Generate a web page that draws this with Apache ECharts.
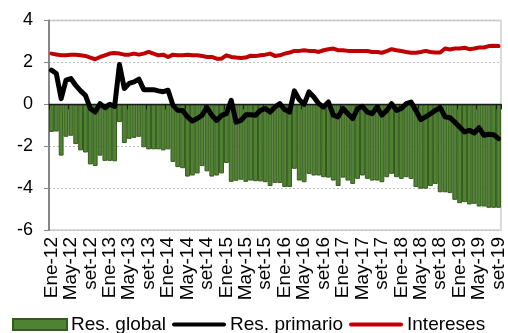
<!DOCTYPE html>
<html>
<head>
<meta charset="utf-8">
<style>
  html, body { margin: 0; padding: 0; background: #fff; }
  #chart { width: 508px; height: 333px; }
</style>
<script src="https://cdn.jsdelivr.net/npm/echarts@6/dist/echarts.min.js"></script>
</head>
<body>
<div id="chart"></div>
<script>
// Monthly series, Jan 2012 – Sep 2019 (% of GDP)
const months = [
  'Ene-12','Feb-12','Mar-12','Abr-12','May-12','Jun-12','Jul-12','Ago-12','set-12','Oct-12','Nov-12','Dic-12',
  'Ene-13','Feb-13','Mar-13','Abr-13','May-13','Jun-13','Jul-13','Ago-13','set-13','Oct-13','Nov-13','Dic-13',
  'Ene-14','Feb-14','Mar-14','Abr-14','May-14','Jun-14','Jul-14','Ago-14','set-14','Oct-14','Nov-14','Dic-14',
  'Ene-15','Feb-15','Mar-15','Abr-15','May-15','Jun-15','Jul-15','Ago-15','set-15','Oct-15','Nov-15','Dic-15',
  'Ene-16','Feb-16','Mar-16','Abr-16','May-16','Jun-16','Jul-16','Ago-16','set-16','Oct-16','Nov-16','Dic-16',
  'Ene-17','Feb-17','Mar-17','Abr-17','May-17','Jun-17','Jul-17','Ago-17','set-17','Oct-17','Nov-17','Dic-17',
  'Ene-18','Feb-18','Mar-18','Abr-18','May-18','Jun-18','Jul-18','Ago-18','set-18','Oct-18','Nov-18','Dic-18',
  'Ene-19','Feb-19','Mar-19','Abr-19','May-19','Jun-19','Jul-19','Ago-19','set-19'
];

const resGlobal = [
  -1.32, -1.30, -2.45, -1.55, -1.50, -1.90, -2.20, -2.30, -2.87, -2.95, -2.45, -2.70,
  -2.70, -2.72, -0.85, -1.85, -1.65, -1.60, -1.55, -2.05, -2.15, -2.15, -2.15, -2.20,
  -2.15, -2.75, -3.00, -3.05, -3.45, -3.40, -3.30, -2.95, -3.20, -3.45, -3.40, -3.30,
  -2.80, -3.70, -3.65, -3.60, -3.70, -3.64, -3.67, -3.68, -3.72, -3.90, -3.75, -3.76,
  -3.95, -3.95, -3.08, -3.64, -3.72, -3.32, -3.40, -3.40, -3.48, -3.50, -3.64, -3.90,
  -3.50, -3.64, -3.80, -3.56, -3.40, -3.56, -3.64, -3.64, -3.72, -3.48, -3.32, -3.48,
  -3.56, -3.48, -3.56, -3.95, -4.03, -4.03, -3.90, -3.80, -4.20, -4.20, -4.24, -4.56,
  -4.72, -4.67, -4.78, -4.75, -4.88, -4.88, -4.94, -4.94, -4.94
];

const resPrimario = [
  1.63, 1.47, 0.27, 1.15, 1.23, 0.90, 0.64, 0.43, -0.20, -0.37, 0.03, -0.16,
  0.00, -0.10, 1.90, 0.75, 1.00, 1.07, 1.20, 0.70, 0.70, 0.70, 0.64, 0.60,
  0.67, -0.05, -0.29, -0.30, -0.60, -0.80, -0.68, -0.52, -0.16, -0.52, -0.77, -0.53,
  -0.45, 0.19, -0.85, -0.77, -0.50, -0.50, -0.52, -0.29, -0.20, -0.37, -0.13, 0.03,
  -0.25, -0.37, 0.64, 0.22, 0.00, 0.59, 0.35, 0.03, -0.13, 0.11, -0.52, -0.60,
  -0.20, -0.45, -0.68, -0.20, -0.10, -0.37, -0.45, -0.13, -0.52, -0.29, 0.03, -0.29,
  -0.20, 0.03, 0.11, -0.29, -0.73, -0.60, -0.45, -0.29, -0.16, -0.60, -0.64, -0.85,
  -1.08, -1.32, -1.24, -1.37, -1.12, -1.48, -1.43, -1.45, -1.64
];

const intereses = [
  2.42, 2.38, 2.34, 2.34, 2.37, 2.37, 2.34, 2.31, 2.23, 2.15, 2.26, 2.34,
  2.42, 2.45, 2.42, 2.37, 2.37, 2.42, 2.37, 2.42, 2.50, 2.42, 2.34, 2.37,
  2.26, 2.37, 2.34, 2.34, 2.37, 2.34, 2.34, 2.31, 2.26, 2.26, 2.18, 2.18,
  2.34, 2.26, 2.23, 2.21, 2.23, 2.32, 2.30, 2.34, 2.37, 2.42, 2.31, 2.34,
  2.42, 2.47, 2.55, 2.55, 2.58, 2.55, 2.55, 2.50, 2.58, 2.63, 2.66, 2.58,
  2.58, 2.55, 2.54, 2.55, 2.55, 2.54, 2.50, 2.50, 2.46, 2.54, 2.63, 2.58,
  2.54, 2.50, 2.46, 2.46, 2.50, 2.55, 2.50, 2.47, 2.47, 2.66, 2.62, 2.66,
  2.66, 2.70, 2.63, 2.66, 2.71, 2.71, 2.78, 2.79, 2.78
];

const yTicks = { min: -6, max: 4, step: 2 };

const FONT = 'Liberation Sans';
// thick bar used as the legend glyph of the two line series
const LINE_ICON = 'path://M2,0 L52,0 A2,2 0 0 1 52,4 L2,4 A2,2 0 0 1 2,0 Z';

const chart = echarts.init(document.getElementById('chart'), null, { renderer: 'canvas' });

chart.setOption({
  animation: false,
  textStyle: { fontFamily: FONT },
  grid: {
    left: 49, right: 6.5, top: 20.5, bottom: 103,
    show: true, borderColor: '#d9d9d9', borderWidth: 2, backgroundColor: 'transparent'
  },
  legend: {
    bottom: -6, left: 7,
    itemWidth: 54, itemHeight: 11, itemGap: 6,
    textStyle: { fontFamily: FONT, fontSize: 19, color: '#000', padding: [0, 0, 0, -1] },
    data: [
      { name: 'Res. global', icon: 'rect' },
      { name: 'Res. primario', icon: LINE_ICON },
      { name: 'Intereses', icon: LINE_ICON }
    ]
  },
  xAxis: [
    {
      type: 'category',
      data: months,
      position: 'bottom',
      axisLine: { show: false, onZero: false },
      axisTick: { show: false },
      axisLabel: {
        interval: 3, rotate: 90, margin: 7,
        showMinLabel: true, showMaxLabel: true, hideOverlap: false,
        fontFamily: FONT, fontSize: 19, lineHeight: 14, color: '#000'
      },
      splitLine: { show: false }
    },
    {
      type: 'category',
      data: months,
      position: 'bottom',
      z: 3,
      axisLine: { show: true, onZero: true, lineStyle: { color: '#1a1a1a', width: 1.3 } },
      axisTick: { show: true, interval: 3, length: 5, lineStyle: { color: '#1a1a1a', width: 1 } },
      axisLabel: { show: false },
      splitLine: { show: false }
    }
  ],
  yAxis: {
    type: 'value',
    min: yTicks.min, max: yTicks.max, interval: yTicks.step,
    axisLine: { show: true, lineStyle: { color: '#868686', width: 2 } },
    axisTick: { show: true, length: 5, lineStyle: { color: '#868686', width: 1 } },
    axisLabel: { margin: 16, fontFamily: FONT, fontSize: 18, color: '#000' },
    splitLine: { show: true, lineStyle: { color: '#bfbfbf', type: [2, 2], width: 1 } }
  },
  series: [
    {
      name: 'Res. global',
      type: 'bar',
      xAxisIndex: 0,
      data: resGlobal,
      barCategoryGap: '0%',
      itemStyle: { color: '#4f8232', borderColor: '#365a1d', borderWidth: 1 },
      z: 2
    },
    {
      name: 'Res. primario',
      type: 'line',
      xAxisIndex: 0,
      data: resPrimario,
      showSymbol: false,
      symbol: 'none',
      lineStyle: { color: '#000', width: 5, join: 'round', cap: 'round' },
      itemStyle: { color: '#000' },
      z: 5
    },
    {
      name: 'Intereses',
      type: 'line',
      xAxisIndex: 0,
      data: intereses,
      showSymbol: false,
      symbol: 'none',
      lineStyle: { color: '#c00000', width: 4, join: 'round', cap: 'round' },
      itemStyle: { color: '#c00000' },
      z: 5
    }
  ]
});
</script>
</body>
</html>
